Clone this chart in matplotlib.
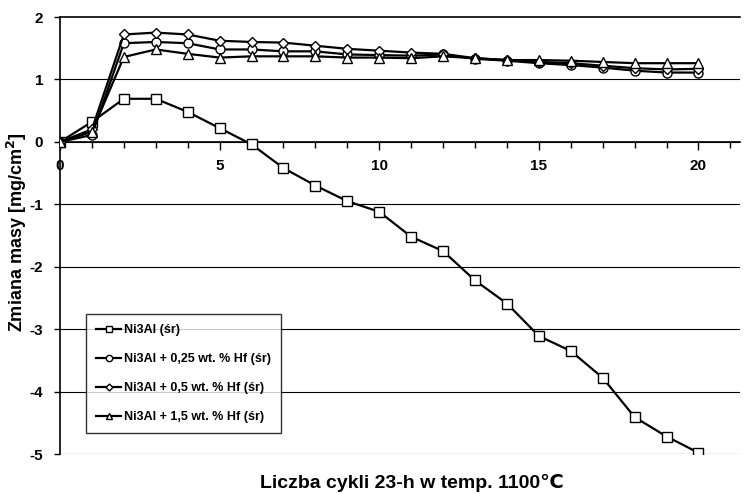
import numpy as np
import matplotlib.pyplot as plt
from matplotlib.ticker import MultipleLocator

plt.rcParams['font.family'] = ['Liberation Sans', 'DejaVu Sans']
plt.rcParams['font.weight'] = 'bold'
plt.rcParams['axes.unicode_minus'] = False

cycles = list(range(21))
ni3al = [0, 0.32, 0.69, 0.69, 0.48, 0.22, -0.04, -0.42, -0.70, -0.95, -1.12,
         -1.52, -1.75, -2.22, -2.59, -3.11, -3.35, -3.78, -4.41, -4.72, -4.98]
hf025 = [0, 0.11, 1.58, 1.60, 1.58, 1.48, 1.48, 1.45, 1.45, 1.40, 1.39,
         1.38, 1.40, 1.33, 1.30, 1.26, 1.23, 1.19, 1.14, 1.11, 1.11]
hf05 = [0, 0.20, 1.72, 1.75, 1.72, 1.62, 1.60, 1.59, 1.54, 1.49, 1.46,
        1.43, 1.41, 1.34, 1.31, 1.28, 1.26, 1.22, 1.18, 1.16, 1.17]
hf15 = [0, 0.16, 1.36, 1.48, 1.41, 1.35, 1.37, 1.37, 1.37, 1.35, 1.35,
        1.34, 1.37, 1.34, 1.31, 1.31, 1.30, 1.28, 1.26, 1.26, 1.26]

labels = ['Ni3Al (śr)', 'Ni3Al + 0,25 wt. % Hf (śr)',
          'Ni3Al + 0,5 wt. % Hf (śr)', 'Ni3Al + 1,5 wt. % Hf (śr)']
markers = ['s', 'o', 'D', '^']
sizes = [6.5, 6.5, 5, 6.5]

fig = plt.figure(figsize=(7.55, 4.94), dpi=100)
ax = fig.add_axes([60/755, 1-454/494, 680/755, (454-17)/494])

for yv in range(-5, 2):
    ax.axhline(yv, color='black', lw=0.8, zorder=0)

for ys, m, ms, lab in zip([ni3al, hf025, hf05, hf15], markers, sizes, labels):
    ax.plot(cycles, ys, color='black', lw=1.6, marker=m, markersize=ms,
            markerfacecolor='white', markeredgecolor='black', markeredgewidth=1,
            label=lab, zorder=3)

ax.set_xlim(0, 21.3)
ax.set_ylim(-5, 2)
ax.spines['right'].set_visible(False)
ax.spines['bottom'].set_position(('data', 0))
ax.spines['top'].set_linewidth(1.2)
ax.spines['left'].set_linewidth(1.2)
ax.spines['bottom'].set_linewidth(1.2)

ax.xaxis.set_major_locator(MultipleLocator(5))
ax.xaxis.set_minor_locator(MultipleLocator(1))
ax.tick_params(axis='x', which='major', direction='out', length=6, width=1, pad=6, labelsize=11)
ax.tick_params(axis='x', which='minor', direction='out', length=4, width=1)
ax.yaxis.set_major_locator(MultipleLocator(1))
ax.tick_params(axis='y', direction='out', length=4, width=1, labelsize=11, pad=8)
for t in ax.get_xticklabels() + ax.get_yticklabels():
    t.set_fontweight('bold')

fig.text(17/755, 1-232/494, 'Zmiana masy [mg/cm$^\\mathbf{2}$]', rotation=90,
         ha='center', va='center', fontsize=13, fontweight='bold')
fig.text(412/755, 1-483/494, 'Liczba cykli 23-h w temp. 1100℃', ha='center', va='center',
         fontsize=14, fontweight='bold')

leg = ax.legend(loc='lower left', bbox_to_anchor=(26/680, 21/437), frameon=True, fancybox=False,
                edgecolor='black', fontsize=9, handlelength=2.0, labelspacing=1.35,
                borderpad=0.8, handletextpad=0.2, markerscale=0.7, borderaxespad=0)
leg.get_frame().set_linewidth(1)
leg.set_zorder(5)

fig.savefig('out.png', dpi=100)
